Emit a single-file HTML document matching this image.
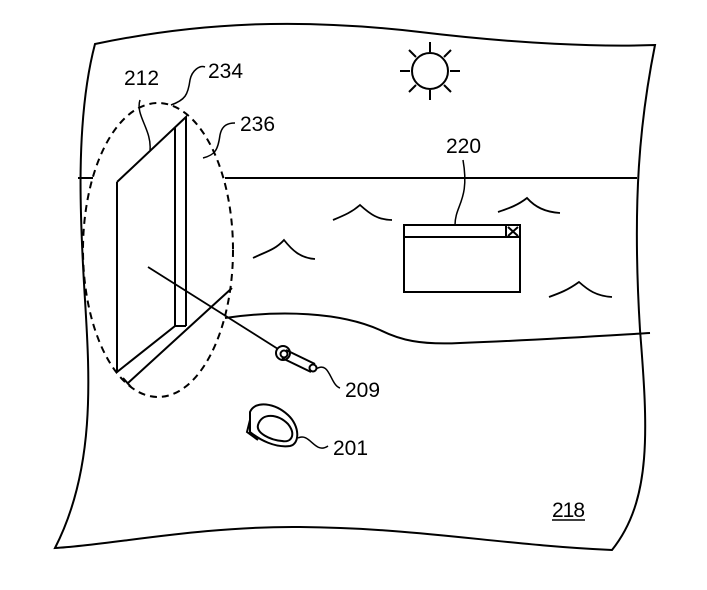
<!DOCTYPE html>
<html><head><style>html,body{margin:0;padding:0;background:#fff}svg{display:block}</style></head><body>
<svg width="707" height="590" viewBox="0 0 707 590" xmlns="http://www.w3.org/2000/svg" fill="none" stroke="#000" stroke-width="2" font-family="Liberation Sans, sans-serif" font-size="21">
<!-- outline -->
<path d="M95,44 C200,22 300,18 420,32 C520,44 600,47 655,45 C640,120 632,200 640,330 C648,430 652,500 612,550 C500,545 420,528 300,527 C200,526 110,545 55,548 C95,470 90,380 85,300 C80,220 75,120 95,44 Z"/>
<!-- horizon -->
<path d="M78,178 H93 M225,178 H637"/>
<!-- shore -->
<path d="M225,318 C280,310 340,312 380,330 C400,340 420,345 460,343 C540,340 600,336 650,333"/>
<!-- ellipse -->
<ellipse cx="158" cy="250" rx="75" ry="147" stroke-dasharray="7,5"/>
<!-- panel -->
<path d="M117,182 L186,117 L186,326 M117,182 L117,372 L175,326 L175,128 M175,326 L186,326 M128,383 L232,288 M123,378 L131,387"/>
<!-- pointer line -->
<path d="M148,267 L278,349" stroke-width="1.8"/>
<!-- device 209 -->
<circle cx="283" cy="353" r="7"/><circle cx="284" cy="354" r="3.5"/>
<path d="M286,350 L315,364 M282,358 L311,372"/><circle cx="313" cy="368" r="3.5"/>
<path d="M316,369 C330,360 330,385 340,388" stroke-width="1.5"/>
<text x="345" y="397" stroke="none" fill="#000" textLength="35">209</text>
<!-- headset 201 -->
<path d="M250,412 C255,400 275,403 288,415 C300,426 300,444 290,446 C275,448 260,440 250,432 Z"/>
<path d="M258,425 C262,412 278,414 288,424 C296,434 292,443 282,441 C270,440 256,433 258,425 Z"/>
<path d="M250,420 L247,432 L258,440"/>
<path d="M298,438 C310,432 315,455 328,446" stroke-width="1.5"/>
<text x="333" y="455" stroke="none" fill="#000" textLength="35">201</text>
<!-- sun -->
<circle cx="430" cy="71" r="18"/>
<path d="M430,42 V52 M430,90 V100 M400,71 H410 M450,71 H460 M409,50 L416,57 M444,85 L451,92 M409,92 L416,85 M444,57 L451,50"/>
<!-- window 220 -->
<rect x="404" y="225" width="116" height="67"/>
<path d="M404,237 H520 M506,225 V237 M508,227 L518,236 M518,227 L508,236"/>
<path d="M455,225 C455,205 470,200 463,160" stroke-width="1.5"/>
<text x="446" y="153" stroke="none" fill="#000" textLength="35">220</text>
<!-- waves -->
<path d="M253,258 C265,252 275,250 284,240 C292,250 300,258 315,259" stroke-width="1.8"/>
<path d="M333,220 C345,215 352,212 360,205 C370,214 378,220 392,220" stroke-width="1.8"/>
<path d="M498,212 C510,208 518,205 527,198 C535,207 545,212 560,213" stroke-width="1.8"/>
<path d="M549,297 C560,293 568,290 579,282 C588,290 596,296 612,297" stroke-width="1.8"/>
<!-- labels with leaders -->
<path d="M140,100 C135,115 152,130 150,150" stroke-width="1.5"/>
<text x="124" y="85" stroke="none" fill="#000" textLength="35">212</text>
<path d="M171,105 C185,100 188,95 190,80 C192,70 200,65 205,67" stroke-width="1.5"/>
<text x="208" y="78" stroke="none" fill="#000" textLength="35">234</text>
<path d="M203,158 C215,155 218,150 220,135 C222,125 228,123 235,123" stroke-width="1.5"/>
<text x="240" y="131" stroke="none" fill="#000" textLength="35">236</text>
<text x="552" y="517" stroke="none" fill="#000" textLength="33">218</text>
<path d="M552,520 H585" stroke-width="1.5"/>
</svg>
</body></html>
